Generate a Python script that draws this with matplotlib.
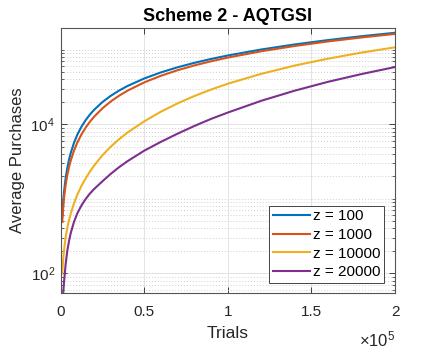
import matplotlib
matplotlib.use("Agg")
import matplotlib.pyplot as plt
from matplotlib.ticker import FixedLocator, NullFormatter

plt.rcParams["font.family"] = ["Liberation Sans", "DejaVu Sans"]
plt.rcParams["mathtext.fontset"] = "custom"
plt.rcParams["mathtext.rm"] = "Liberation Sans"
plt.rcParams["mathtext.it"] = "Liberation Sans:italic"

# Trials (x) shared by all series
trials = [1000, 1500, 2000, 3000, 4000, 5000, 6000, 8000, 10000, 12500,
          15000, 17500, 20000, 25000, 30000, 35000, 40000, 50000, 60000,
          70000, 80000, 90000, 100000, 120000, 140000, 160000, 180000, 200000]

# Average purchases, one list per z
z100 = [583, 894, 1215, 1888, 2594, 3327, 4082, 5643, 7253, 9311,
        11400, 13507, 15627, 19885, 24154, 28426, 32700, 41250, 49800,
        58350, 66900, 75450, 84000, 101100, 118200, 135300, 152400, 169500]
z1000 = [490, 743, 1001, 1531, 2079, 2645, 3226, 4435, 5698, 7345,
         9057, 10825, 12643, 16398, 20279, 24254, 28299, 36533, 44885,
         53303, 61757, 70232, 78718, 95706, 112702, 129700, 146700, 163700]
z10000 = [100, 150, 200, 302, 407, 513, 624, 871, 1135, 1496,
          1884, 2317, 2786, 3846, 5012, 6310, 7762, 10965, 14791,
          19143, 23988, 29309, 35075, 47643, 61518, 76208, 91833, 108143]
z20000 = [35, 52, 74, 132, 200, 269, 343, 490, 638, 817,
          995, 1175, 1349, 1718, 2163, 2661, 3199, 4426, 5821,
          7499, 9506, 11830, 14390, 20700, 28310, 37240, 47320, 58750]

labels = ["z = 100", "z = 1000", "z = 10000", "z = 20000"]
colors = ["#0072BD", "#D95319", "#EDB120", "#7E2F8E"]

xticks = [0, 50000, 100000, 150000, 200000]
xtick_labels = ["0", "0.5", "1", "1.5", "2"]
yticks = [1e2, 1e4]


def main():
    fig = plt.figure(figsize=(4.36, 3.49), dpi=100)
    ax = fig.add_axes([0.139, 0.1605, 0.767, 0.760])

    for series, lab, col in zip([z100, z1000, z10000, z20000], labels, colors):
        ax.plot(trials, series, color=col, lw=1.5, label=lab)

    ax.set_yscale("log")
    ax.set_xlim(0, 200000)
    ax.set_ylim(54.4, 1.98e5)

    ax.xaxis.set_major_locator(FixedLocator(xticks))
    ax.set_xticklabels(xtick_labels)
    ax.yaxis.set_major_locator(FixedLocator(yticks))
    minors = [m * 10 ** e for e in range(1, 6) for m in range(1, 10)
              if m * 10 ** e not in yticks]
    ax.yaxis.set_minor_locator(FixedLocator(minors))
    ax.yaxis.set_minor_formatter(NullFormatter())

    # MATLAB-like look
    ax.grid(True, which="major", color="#e3e3e3", lw=0.7)
    ax.grid(True, which="minor", axis="y", color="#cfcfcf", lw=0.7,
            linestyle=(0, (1, 2)))
    ax.set_axisbelow(True)
    ax.tick_params(which="both", direction="in", top=True, right=True,
                   colors="#262626", labelsize=11)
    ax.tick_params(which="major", length=4, width=0.6)
    ax.tick_params(which="minor", length=2, width=0.5)
    ax.tick_params(axis="x", which="major", pad=9)
    ax.tick_params(axis="y", which="major", pad=4)
    for sp in ax.spines.values():
        sp.set_color("#555555")
        sp.set_linewidth(0.8)

    ax.set_title("Scheme 2 - AQTGSI", fontsize=13, fontweight="bold", pad=5)
    ax.set_xlabel("Trials", fontsize=12.5, color="#262626", labelpad=5)
    ax.set_ylabel("Average Purchases", fontsize=12, color="#262626",
                  labelpad=4)
    ax.text(1.0, -0.138, r"$\times$10$^{5}$", transform=ax.transAxes,
            ha="right", va="top", fontsize=12, color="#262626")

    leg = ax.legend(loc="lower right", bbox_to_anchor=(384 / 436, 66 / 349),
                    bbox_transform=fig.transFigure, borderaxespad=0,
                    fontsize=11, fancybox=False, framealpha=1,
                    edgecolor="#444444", handlelength=2.4,
                    handletextpad=0.2, labelspacing=0.3,
                    borderpad=0.25)
    leg.get_frame().set_linewidth(0.7)

    fig.savefig("out.png", dpi=100)


if __name__ == "__main__":
    main()
